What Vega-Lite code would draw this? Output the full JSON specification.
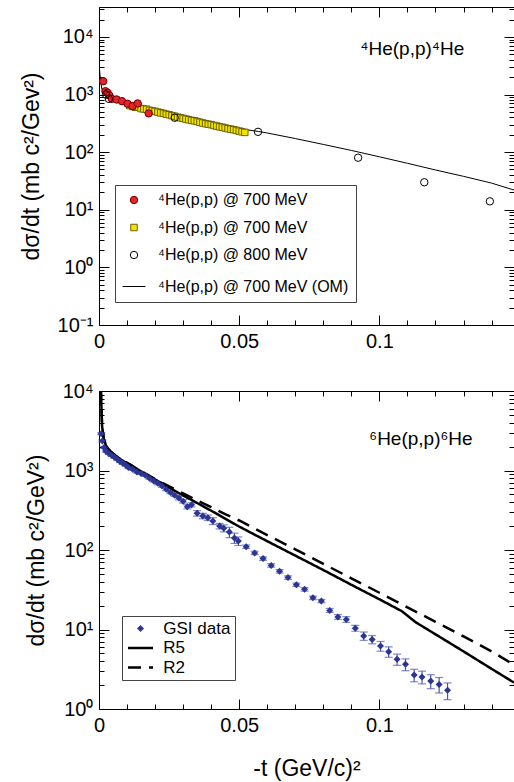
{
  "$schema": "https://vega.github.io/schema/vega-lite/v6.json",
  "padding": {"left": 19, "top": 6, "right": 0, "bottom": 0},
  "spacing": 28,
  "resolve": {"scale": {"shape": "independent", "fill": "independent", "stroke": "independent", "size": "independent", "strokeDash": "independent", "strokeWidth": "independent"}},
  "config": {
    "font": "Liberation Sans",
    "view": {"stroke": "black", "strokeWidth": 1},
    "axis": {"grid": false, "domain": false, "tickColor": "black", "tickWidth": 1, "labelColor": "black", "titleColor": "black", "labelFont": "Liberation Sans", "titleFont": "Liberation Sans", "labelFontSize": 20, "titleFontSize": 23, "titleFontWeight": "normal", "labelFlush": false, "labelOverlap": false},
    "legend": {"labelFont": "Liberation Sans", "labelLimit": 400}
  },
  "datasets": {
    "he4": [
      {"t": 0.011, "v": 640, "s": "b"}, {"t": 0.012, "v": 620, "s": "b"}, {"t": 0.013, "v": 600, "s": "b"}, {"t": 0.014, "v": 610, "s": "b"}, {"t": 0.015, "v": 570, "s": "b"}, {"t": 0.016, "v": 560, "s": "b"}, {"t": 0.017, "v": 555, "s": "b"}, {"t": 0.018, "v": 530, "s": "b"}, {"t": 0.019, "v": 520, "s": "b"}, {"t": 0.020, "v": 510, "s": "b"}, {"t": 0.021, "v": 495, "s": "b"}, {"t": 0.022, "v": 480, "s": "b"}, {"t": 0.023, "v": 470, "s": "b"}, {"t": 0.024, "v": 455, "s": "b"}, {"t": 0.025, "v": 445, "s": "b"}, {"t": 0.026, "v": 430, "s": "b"}, {"t": 0.027, "v": 420, "s": "b"}, {"t": 0.028, "v": 405, "s": "b"}, {"t": 0.029, "v": 395, "s": "b"}, {"t": 0.030, "v": 385, "s": "b"}, {"t": 0.031, "v": 375, "s": "b"}, {"t": 0.032, "v": 365, "s": "b"}, {"t": 0.033, "v": 355, "s": "b"}, {"t": 0.034, "v": 350, "s": "b"}, {"t": 0.035, "v": 340, "s": "b"}, {"t": 0.036, "v": 330, "s": "b"}, {"t": 0.037, "v": 320, "s": "b"}, {"t": 0.038, "v": 312, "s": "b"}, {"t": 0.039, "v": 305, "s": "b"}, {"t": 0.040, "v": 300, "s": "b"}, {"t": 0.041, "v": 290, "s": "b"}, {"t": 0.042, "v": 283, "s": "b"}, {"t": 0.043, "v": 275, "s": "b"}, {"t": 0.044, "v": 270, "s": "b"}, {"t": 0.045, "v": 262, "s": "b"}, {"t": 0.046, "v": 255, "s": "b"}, {"t": 0.047, "v": 250, "s": "b"}, {"t": 0.048, "v": 245, "s": "b"}, {"t": 0.049, "v": 238, "s": "b"}, {"t": 0.050, "v": 232, "s": "b"}, {"t": 0.051, "v": 225, "s": "b"}, {"t": 0.052, "v": 220, "s": "b"},
      {"t": 0.0015, "v": 1700, "s": "a"}, {"t": 0.0023, "v": 1140, "s": "a"}, {"t": 0.0031, "v": 1070, "s": "a"}, {"t": 0.0037, "v": 960, "s": "a"}, {"t": 0.0046, "v": 840, "s": "a"}, {"t": 0.0063, "v": 820, "s": "a"}, {"t": 0.0082, "v": 765, "s": "a"}, {"t": 0.0102, "v": 690, "s": "a"}, {"t": 0.012, "v": 630, "s": "a"}, {"t": 0.0138, "v": 700, "s": "a"}, {"t": 0.0177, "v": 470, "s": "a"},
      {"t": 0.0025, "v": 1000, "s": "c"}, {"t": 0.0035, "v": 840, "s": "c"}, {"t": 0.027, "v": 395, "s": "c"}, {"t": 0.0567, "v": 225, "s": "c"}, {"t": 0.0924, "v": 80, "s": "c"}, {"t": 0.116, "v": 30, "s": "c"}, {"t": 0.1394, "v": 14, "s": "c"}
    ],
    "om": [
      {"t": 0.0, "v": 3500}, {"t": 0.0005, "v": 1800}, {"t": 0.001, "v": 1250}, {"t": 0.002, "v": 1020}, {"t": 0.004, "v": 900}, {"t": 0.007, "v": 790}, {"t": 0.01, "v": 700}, {"t": 0.015, "v": 590}, {"t": 0.02, "v": 510}, {"t": 0.025, "v": 450}, {"t": 0.03, "v": 400}, {"t": 0.035, "v": 355}, {"t": 0.04, "v": 315}, {"t": 0.045, "v": 280}, {"t": 0.05, "v": 255}, {"t": 0.0569, "v": 228}, {"t": 0.06, "v": 215}, {"t": 0.07, "v": 172}, {"t": 0.08, "v": 136}, {"t": 0.09, "v": 107}, {"t": 0.1, "v": 83}, {"t": 0.11, "v": 64}, {"t": 0.12, "v": 49}, {"t": 0.13, "v": 38}, {"t": 0.14, "v": 29}, {"t": 0.148, "v": 22}
    ],
    "gsi": [
      {"t": 0.0008, "v": 2900, "lo": 2813, "hi": 2987, "s": "GSI data"}, {"t": 0.0012, "v": 2350, "lo": 2280, "hi": 2420, "s": "GSI data"}, {"t": 0.0018, "v": 1950, "lo": 1892, "hi": 2008, "s": "GSI data"}, {"t": 0.0025, "v": 1750, "lo": 1698, "hi": 1802, "s": "GSI data"}, {"t": 0.0035, "v": 1640, "lo": 1591, "hi": 1689, "s": "GSI data"}, {"t": 0.0045, "v": 1560, "lo": 1513, "hi": 1607, "s": "GSI data"}, {"t": 0.0055, "v": 1470, "lo": 1426, "hi": 1514, "s": "GSI data"}, {"t": 0.0065, "v": 1390, "lo": 1348, "hi": 1432, "s": "GSI data"}, {"t": 0.0075, "v": 1300, "lo": 1261, "hi": 1339, "s": "GSI data"}, {"t": 0.0085, "v": 1230, "lo": 1193, "hi": 1267, "s": "GSI data"}, {"t": 0.0095, "v": 1170, "lo": 1135, "hi": 1205, "s": "GSI data"}, {"t": 0.0105, "v": 1090, "lo": 1057, "hi": 1123, "s": "GSI data"}, {"t": 0.012, "v": 1040, "lo": 1009, "hi": 1071, "s": "GSI data"}, {"t": 0.0135, "v": 960, "lo": 931, "hi": 989, "s": "GSI data"}, {"t": 0.015, "v": 920, "lo": 892, "hi": 948, "s": "GSI data"}, {"t": 0.0165, "v": 870, "lo": 844, "hi": 896, "s": "GSI data"}, {"t": 0.018, "v": 800, "lo": 776, "hi": 824, "s": "GSI data"}, {"t": 0.0195, "v": 740, "lo": 718, "hi": 762, "s": "GSI data"}, {"t": 0.021, "v": 690, "lo": 662, "hi": 718, "s": "GSI data"}, {"t": 0.0225, "v": 640, "lo": 614, "hi": 666, "s": "GSI data"}, {"t": 0.024, "v": 580, "lo": 557, "hi": 603, "s": "GSI data"}, {"t": 0.0255, "v": 530, "lo": 509, "hi": 551, "s": "GSI data"}, {"t": 0.027, "v": 490, "lo": 470, "hi": 510, "s": "GSI data"}, {"t": 0.0285, "v": 450, "lo": 428, "hi": 473, "s": "GSI data"}, {"t": 0.03, "v": 410, "lo": 390, "hi": 431, "s": "GSI data"}, {"t": 0.0315, "v": 350, "lo": 329, "hi": 371, "s": "GSI data"}, {"t": 0.033, "v": 370, "lo": 348, "hi": 392, "s": "GSI data"}, {"t": 0.035, "v": 290, "lo": 267, "hi": 313, "s": "GSI data"}, {"t": 0.037, "v": 268, "lo": 247, "hi": 289, "s": "GSI data"}, {"t": 0.0388, "v": 255, "lo": 235, "hi": 275, "s": "GSI data"}, {"t": 0.0406, "v": 232, "lo": 209, "hi": 255, "s": "GSI data"}, {"t": 0.043, "v": 200, "lo": 184, "hi": 216, "s": "GSI data"}, {"t": 0.0445, "v": 188, "lo": 169, "hi": 207, "s": "GSI data"}, {"t": 0.0465, "v": 168, "lo": 143, "hi": 193, "s": "GSI data"}, {"t": 0.0483, "v": 142, "lo": 121, "hi": 163, "s": "GSI data"}, {"t": 0.0497, "v": 130, "lo": 114, "hi": 146, "s": "GSI data"}, {"t": 0.0525, "v": 110, "lo": 104.5, "hi": 115.5, "s": "GSI data"}, {"t": 0.0555, "v": 92, "lo": 87.4, "hi": 96.6, "s": "GSI data"}, {"t": 0.0585, "v": 78, "lo": 74.1, "hi": 81.9, "s": "GSI data"}, {"t": 0.0614, "v": 64, "lo": 60.8, "hi": 67.2, "s": "GSI data"}, {"t": 0.0644, "v": 54, "lo": 51.3, "hi": 56.7, "s": "GSI data"}, {"t": 0.0674, "v": 45, "lo": 42.75, "hi": 47.25, "s": "GSI data"}, {"t": 0.0704, "v": 36.5, "lo": 34.7, "hi": 38.3, "s": "GSI data"}, {"t": 0.0733, "v": 32, "lo": 30.4, "hi": 33.6, "s": "GSI data"}, {"t": 0.0763, "v": 25, "lo": 23.75, "hi": 26.25, "s": "GSI data"}, {"t": 0.0793, "v": 22.8, "lo": 21.7, "hi": 23.9, "s": "GSI data"}, {"t": 0.0823, "v": 17.4, "lo": 16.4, "hi": 18.4, "s": "GSI data"}, {"t": 0.0852, "v": 14.4, "lo": 13.4, "hi": 15.4, "s": "GSI data"}, {"t": 0.0882, "v": 13.4, "lo": 12.3, "hi": 14.5, "s": "GSI data"}, {"t": 0.0914, "v": 10.4, "lo": 9.5, "hi": 11.3, "s": "GSI data"}, {"t": 0.0944, "v": 8.3, "lo": 7.3, "hi": 9.3, "s": "GSI data"}, {"t": 0.0974, "v": 7.5, "lo": 6.6, "hi": 8.4, "s": "GSI data"}, {"t": 0.1004, "v": 6.2, "lo": 5.33, "hi": 7.07, "s": "GSI data"}, {"t": 0.1033, "v": 5.26, "lo": 4.47, "hi": 6.05, "s": "GSI data"}, {"t": 0.1063, "v": 4.22, "lo": 3.54, "hi": 4.9, "s": "GSI data"}, {"t": 0.1093, "v": 3.65, "lo": 3.03, "hi": 4.27, "s": "GSI data"}, {"t": 0.1124, "v": 2.68, "lo": 2.2, "hi": 3.16, "s": "GSI data"}, {"t": 0.1152, "v": 2.53, "lo": 2.07, "hi": 2.99, "s": "GSI data"}, {"t": 0.1183, "v": 2.25, "lo": 1.8, "hi": 2.7, "s": "GSI data"}, {"t": 0.1213, "v": 2.04, "lo": 1.59, "hi": 2.49, "s": "GSI data"}, {"t": 0.1243, "v": 1.72, "lo": 1.31, "hi": 2.13, "s": "GSI data"}
    ],
    "models": [
      {"t": 0.0002, "v": 20000, "s": "R5"}, {"t": 0.0007, "v": 9500, "s": "R5"}, {"t": 0.0011, "v": 3600, "s": "R5"}, {"t": 0.0017, "v": 2500, "s": "R5"}, {"t": 0.0025, "v": 2050, "s": "R5"}, {"t": 0.004, "v": 1750, "s": "R5"}, {"t": 0.006, "v": 1520, "s": "R5"}, {"t": 0.0085, "v": 1320, "s": "R5"}, {"t": 0.011, "v": 1190, "s": "R5"}, {"t": 0.014, "v": 1020, "s": "R5"}, {"t": 0.017, "v": 890, "s": "R5"}, {"t": 0.02, "v": 770, "s": "R5"}, {"t": 0.025, "v": 610, "s": "R5"}, {"t": 0.03, "v": 485, "s": "R5"}, {"t": 0.035, "v": 390, "s": "R5"}, {"t": 0.04, "v": 312, "s": "R5"}, {"t": 0.045, "v": 248, "s": "R5"}, {"t": 0.05, "v": 197, "s": "R5"}, {"t": 0.06, "v": 129, "s": "R5"}, {"t": 0.07, "v": 85, "s": "R5"}, {"t": 0.08, "v": 56, "s": "R5"}, {"t": 0.09, "v": 36.5, "s": "R5"}, {"t": 0.1, "v": 24, "s": "R5"}, {"t": 0.108, "v": 17, "s": "R5"}, {"t": 0.113, "v": 12.3, "s": "R5"}, {"t": 0.12, "v": 8.7, "s": "R5"}, {"t": 0.13, "v": 5.3, "s": "R5"}, {"t": 0.14, "v": 3.2, "s": "R5"}, {"t": 0.148, "v": 2.15, "s": "R5"},
      {"t": 0.0002, "v": 20000, "s": "R2"}, {"t": 0.0007, "v": 9500, "s": "R2"}, {"t": 0.0011, "v": 3600, "s": "R2"}, {"t": 0.0017, "v": 2500, "s": "R2"}, {"t": 0.0025, "v": 2050, "s": "R2"}, {"t": 0.004, "v": 1750, "s": "R2"}, {"t": 0.006, "v": 1525, "s": "R2"}, {"t": 0.0085, "v": 1325, "s": "R2"}, {"t": 0.011, "v": 1195, "s": "R2"}, {"t": 0.014, "v": 1025, "s": "R2"}, {"t": 0.017, "v": 895, "s": "R2"}, {"t": 0.02, "v": 780, "s": "R2"}, {"t": 0.025, "v": 630, "s": "R2"}, {"t": 0.03, "v": 515, "s": "R2"}, {"t": 0.035, "v": 420, "s": "R2"}, {"t": 0.04, "v": 345, "s": "R2"}, {"t": 0.045, "v": 282, "s": "R2"}, {"t": 0.05, "v": 235, "s": "R2"}, {"t": 0.06, "v": 154, "s": "R2"}, {"t": 0.07, "v": 102, "s": "R2"}, {"t": 0.08, "v": 67, "s": "R2"}, {"t": 0.09, "v": 44, "s": "R2"}, {"t": 0.1, "v": 29, "s": "R2"}, {"t": 0.11, "v": 19, "s": "R2"}, {"t": 0.12, "v": 12.5, "s": "R2"}, {"t": 0.13, "v": 8.2, "s": "R2"}, {"t": 0.14, "v": 5.3, "s": "R2"}, {"t": 0.148, "v": 3.6, "s": "R2"}
    ]
  },
  "vconcat": [
    {
      "width": 415,
      "height": 318,
      "layer": [
        {
          "data": {"name": "om"},
          "mark": {"type": "line", "color": "black", "strokeWidth": 1, "clip": true},
          "encoding": {
            "x": {"field": "t", "type": "quantitative", "scale": {"domain": [0, 0.148], "nice": false, "zero": false},
              "axis": {"orient": "top", "offset": -318, "labels": false, "title": null, "values": [0, 0.01, 0.02, 0.03, 0.04, 0.05, 0.06, 0.07, 0.08, 0.09, 0.1, 0.11, 0.12, 0.13, 0.14],
                "tickSize": {"condition": {"test": "datum.value==0||datum.value==0.05||datum.value==0.1", "value": 10}, "value": 5}}},
            "y": {"field": "v", "type": "quantitative", "scale": {"type": "log", "domain": [0.1, 33000], "nice": false},
              "axis": {"orient": "right", "offset": -415, "labels": false, "title": null, "values": [0.1, 0.2, 0.3, 0.4, 0.5, 0.6, 0.7, 0.8, 0.9, 1, 2, 3, 4, 5, 6, 7, 8, 9, 10, 20, 30, 40, 50, 60, 70, 80, 90, 100, 200, 300, 400, 500, 600, 700, 800, 900, 1000, 2000, 3000, 4000, 5000, 6000, 7000, 8000, 9000, 10000, 20000, 30000],
                "tickSize": {"condition": {"test": "indexof([0.1,1,10,100,1000,10000],datum.value)>=0", "value": 10}, "value": 5}}}
          }
        },
        {
          "data": {"name": "he4"},
          "mark": {"type": "point", "filled": true, "strokeWidth": 1, "opacity": 1},
          "encoding": {
            "x": {"field": "t", "type": "quantitative", "scale": {"domain": [0, 0.148], "nice": false, "zero": false},
              "axis": {"orient": "bottom", "title": null, "ticks": false, "labelPadding": 6, "values": [0, 0.05, 0.1],
                "labelExpr": "datum.value==0?'0':datum.value==0.05?'0.05':'0.1'"}},
            "y": {"field": "v", "type": "quantitative", "scale": {"type": "log", "domain": [0.1, 33000], "nice": false},
              "axis": {"orient": "left", "title": "dσ/dt (mb c²/Gev²)", "titlePadding": 14, "ticks": false, "labelPadding": 6, "values": [0.1, 1, 10, 100, 1000, 10000],
                "labelExpr": "datum.value==0.1?'10⁻¹':datum.value==1?'10⁰':datum.value==10?'10¹':datum.value==100?'10²':datum.value==1000?'10³':'10⁴'"}},
            "shape": {"field": "s", "type": "nominal", "scale": {"domain": ["a", "b", "c", "om"], "range": ["circle", "square", "circle", "stroke"]},
              "legend": {"title": null, "orient": "none", "legendX": 16, "legendY": 178, "labelExpr": "datum.value=='a'||datum.value=='b'?'⁴He(p,p) @ 700 MeV':datum.value=='c'?'⁴He(p,p) @ 800 MeV':'⁴He(p,p) @ 700 MeV (OM)'", "labelFontSize": 16, "labelColor": "black", "strokeColor": "#444", "fillColor": "white", "padding": 7, "rowPadding": 11.5, "labelOffset": 12, "symbolStrokeWidth": 1}},
            "fill": {"field": "s", "type": "nominal", "scale": {"domain": ["a", "b", "c", "om"], "range": ["#e8232a", "#f2e400", "transparent", "transparent"]},
              "legend": {"title": null, "orient": "none", "legendX": 16, "legendY": 178, "labelExpr": "datum.value=='a'||datum.value=='b'?'⁴He(p,p) @ 700 MeV':datum.value=='c'?'⁴He(p,p) @ 800 MeV':'⁴He(p,p) @ 700 MeV (OM)'", "labelFontSize": 16, "labelColor": "black", "strokeColor": "#444", "fillColor": "white", "padding": 7, "rowPadding": 11.5, "labelOffset": 12, "symbolStrokeWidth": 1}},
            "stroke": {"field": "s", "type": "nominal", "scale": {"domain": ["a", "b", "c", "om"], "range": ["#6a0000", "#6b6200", "black", "black"]},
              "legend": {"title": null, "orient": "none", "legendX": 16, "legendY": 178, "labelExpr": "datum.value=='a'||datum.value=='b'?'⁴He(p,p) @ 700 MeV':datum.value=='c'?'⁴He(p,p) @ 800 MeV':'⁴He(p,p) @ 700 MeV (OM)'", "labelFontSize": 16, "labelColor": "black", "strokeColor": "#444", "fillColor": "white", "padding": 7, "rowPadding": 11.5, "labelOffset": 12, "symbolStrokeWidth": 1}},
            "size": {"field": "s", "type": "nominal", "scale": {"type": "ordinal", "domain": ["a", "b", "c", "om"], "range": [55, 42, 55, 529]},
              "legend": {"title": null, "orient": "none", "legendX": 16, "legendY": 178, "labelExpr": "datum.value=='a'||datum.value=='b'?'⁴He(p,p) @ 700 MeV':datum.value=='c'?'⁴He(p,p) @ 800 MeV':'⁴He(p,p) @ 700 MeV (OM)'", "labelFontSize": 16, "labelColor": "black", "strokeColor": "#444", "fillColor": "white", "padding": 7, "rowPadding": 11.5, "labelOffset": 12, "symbolStrokeWidth": 1}}
          }
        },
        {
          "data": {"values": [{"t": 0.0932, "v": 6180, "label": "⁴He(p,p)⁴He"}]},
          "mark": {"type": "text", "align": "left", "baseline": "middle", "fontSize": 19, "font": "Liberation Sans", "color": "black"},
          "encoding": {
            "x": {"field": "t", "type": "quantitative", "scale": {"domain": [0, 0.148], "nice": false, "zero": false},
              "axis": {"orient": "bottom", "offset": -318, "labels": false, "title": null, "values": [0, 0.01, 0.02, 0.03, 0.04, 0.05, 0.06, 0.07, 0.08, 0.09, 0.1, 0.11, 0.12, 0.13, 0.14],
                "tickSize": {"condition": {"test": "datum.value==0||datum.value==0.05||datum.value==0.1", "value": 10}, "value": 5}}},
            "y": {"field": "v", "type": "quantitative", "scale": {"type": "log", "domain": [0.1, 33000], "nice": false},
              "axis": {"orient": "left", "offset": -415, "labels": false, "title": null, "values": [0.1, 0.2, 0.3, 0.4, 0.5, 0.6, 0.7, 0.8, 0.9, 1, 2, 3, 4, 5, 6, 7, 8, 9, 10, 20, 30, 40, 50, 60, 70, 80, 90, 100, 200, 300, 400, 500, 600, 700, 800, 900, 1000, 2000, 3000, 4000, 5000, 6000, 7000, 8000, 9000, 10000, 20000, 30000],
                "tickSize": {"condition": {"test": "indexof([0.1,1,10,100,1000,10000],datum.value)>=0", "value": 10}, "value": 5}}},
            "text": {"field": "label"}
          }
        }
      ],
      "resolve": {"axis": {"x": "independent", "y": "independent"}}
    },
    {
      "width": 415,
      "height": 318,
      "layer": [
        {
          "data": {"name": "gsi"},
          "mark": {"type": "errorbar", "ticks": {"size": 8}, "color": "#4d55b0", "thickness": 1.2},
          "encoding": {
            "x": {"field": "t", "type": "quantitative", "scale": {"domain": [0, 0.148], "nice": false, "zero": false}, "axis": null},
            "y": {"field": "lo", "type": "quantitative", "scale": {"type": "log", "domain": [1, 10000], "nice": false}, "axis": null},
            "y2": {"field": "hi"}
          }
        },
        {
          "data": {"name": "models"},
          "mark": {"type": "line", "clip": true},
          "encoding": {
            "x": {"field": "t", "type": "quantitative", "scale": {"domain": [0, 0.148], "nice": false, "zero": false},
              "axis": {"orient": "top", "offset": -318, "labels": false, "title": null, "values": [0, 0.01, 0.02, 0.03, 0.04, 0.05, 0.06, 0.07, 0.08, 0.09, 0.1, 0.11, 0.12, 0.13, 0.14],
                "tickSize": {"condition": {"test": "datum.value==0||datum.value==0.05||datum.value==0.1", "value": 10}, "value": 5}}},
            "y": {"field": "v", "type": "quantitative", "scale": {"type": "log", "domain": [1, 10000], "nice": false},
              "axis": {"orient": "right", "offset": -415, "labels": false, "title": null, "values": [1, 2, 3, 4, 5, 6, 7, 8, 9, 10, 20, 30, 40, 50, 60, 70, 80, 90, 100, 200, 300, 400, 500, 600, 700, 800, 900, 1000, 2000, 3000, 4000, 5000, 6000, 7000, 8000, 9000, 10000],
                "tickSize": {"condition": {"test": "indexof([1,10,100,1000,10000],datum.value)>=0", "value": 10}, "value": 5}}},
            "strokeDash": {"field": "s", "type": "nominal", "scale": {"domain": ["GSI data", "R5", "R2"], "range": [[1, 0], [1, 0], [13, 8]]},
              "legend": {"title": null, "orient": "none", "legendX": 23, "legendY": 225, "labelFontSize": 17, "labelColor": "black", "strokeColor": "#444", "fillColor": "white", "padding": 4, "rowPadding": 1.5, "symbolSize": 49, "symbolOffset": 6, "labelOffset": 14.25}},
            "stroke": {"field": "s", "type": "nominal", "scale": {"domain": ["GSI data", "R5", "R2"], "range": ["#2b3593", "black", "black"]},
              "legend": {"title": null, "orient": "none", "legendX": 23, "legendY": 225, "labelFontSize": 17, "labelColor": "black", "strokeColor": "#444", "fillColor": "white", "padding": 4, "rowPadding": 1.5, "symbolSize": 49, "symbolOffset": 6, "labelOffset": 14.25}},
            "strokeWidth": {"field": "s", "type": "nominal", "scale": {"type": "ordinal", "domain": ["GSI data", "R5", "R2"], "range": [0, 2.5, 2.5]},
              "legend": {"title": null, "orient": "none", "legendX": 23, "legendY": 225, "labelFontSize": 17, "labelColor": "black", "strokeColor": "#444", "fillColor": "white", "padding": 4, "rowPadding": 1.5, "symbolSize": 49, "symbolOffset": 6, "labelOffset": 14.25}}
          }
        },
        {
          "data": {"name": "gsi"},
          "mark": {"type": "point", "filled": true, "opacity": 1, "size": 49},
          "encoding": {
            "x": {"field": "t", "type": "quantitative", "scale": {"domain": [0, 0.148], "nice": false, "zero": false},
              "axis": {"orient": "bottom", "title": "-t (GeV/c)²", "titlePadding": 22, "ticks": false, "labelPadding": 6, "values": [0, 0.05, 0.1],
                "labelExpr": "datum.value==0?'0':datum.value==0.05?'0.05':'0.1'"}},
            "y": {"field": "v", "type": "quantitative", "scale": {"type": "log", "domain": [1, 10000], "nice": false},
              "axis": {"orient": "left", "title": "dσ/dt (mb c²/GeV²)", "titlePadding": 14, "ticks": false, "labelPadding": 6, "values": [1, 10, 100, 1000, 10000],
                "labelExpr": "datum.value==1?'10⁰':datum.value==10?'10¹':datum.value==100?'10²':datum.value==1000?'10³':'10⁴'"}},
            "shape": {"field": "s", "type": "nominal", "scale": {"domain": ["GSI data", "R5", "R2"], "range": ["diamond", "M-3.57,0H3.57", "M-3.57,0H3.57"]},
              "legend": {"title": null, "orient": "none", "legendX": 23, "legendY": 225, "labelFontSize": 17, "labelColor": "black", "strokeColor": "#444", "fillColor": "white", "padding": 4, "rowPadding": 1.5, "symbolSize": 49, "symbolOffset": 6, "labelOffset": 14.25}},
            "fill": {"field": "s", "type": "nominal", "scale": {"domain": ["GSI data", "R5", "R2"], "range": ["#2b3593", "transparent", "transparent"]},
              "legend": {"title": null, "orient": "none", "legendX": 23, "legendY": 225, "labelFontSize": 17, "labelColor": "black", "strokeColor": "#444", "fillColor": "white", "padding": 4, "rowPadding": 1.5, "symbolSize": 49, "symbolOffset": 6, "labelOffset": 14.25}}
          }
        },
        {
          "data": {"values": [{"t": 0.0964, "v": 2490, "label": "⁶He(p,p)⁶He"}]},
          "mark": {"type": "text", "align": "left", "baseline": "middle", "fontSize": 19, "font": "Liberation Sans", "color": "black"},
          "encoding": {
            "x": {"field": "t", "type": "quantitative", "scale": {"domain": [0, 0.148], "nice": false, "zero": false},
              "axis": {"orient": "bottom", "offset": -318, "labels": false, "title": null, "values": [0, 0.01, 0.02, 0.03, 0.04, 0.05, 0.06, 0.07, 0.08, 0.09, 0.1, 0.11, 0.12, 0.13, 0.14],
                "tickSize": {"condition": {"test": "datum.value==0||datum.value==0.05||datum.value==0.1", "value": 10}, "value": 5}}},
            "y": {"field": "v", "type": "quantitative", "scale": {"type": "log", "domain": [1, 10000], "nice": false},
              "axis": {"orient": "left", "offset": -415, "labels": false, "title": null, "values": [1, 2, 3, 4, 5, 6, 7, 8, 9, 10, 20, 30, 40, 50, 60, 70, 80, 90, 100, 200, 300, 400, 500, 600, 700, 800, 900, 1000, 2000, 3000, 4000, 5000, 6000, 7000, 8000, 9000, 10000],
                "tickSize": {"condition": {"test": "indexof([1,10,100,1000,10000],datum.value)>=0", "value": 10}, "value": 5}}},
            "text": {"field": "label"}
          }
        }
      ],
      "resolve": {"axis": {"x": "independent", "y": "independent"}}
    }
  ]
}
